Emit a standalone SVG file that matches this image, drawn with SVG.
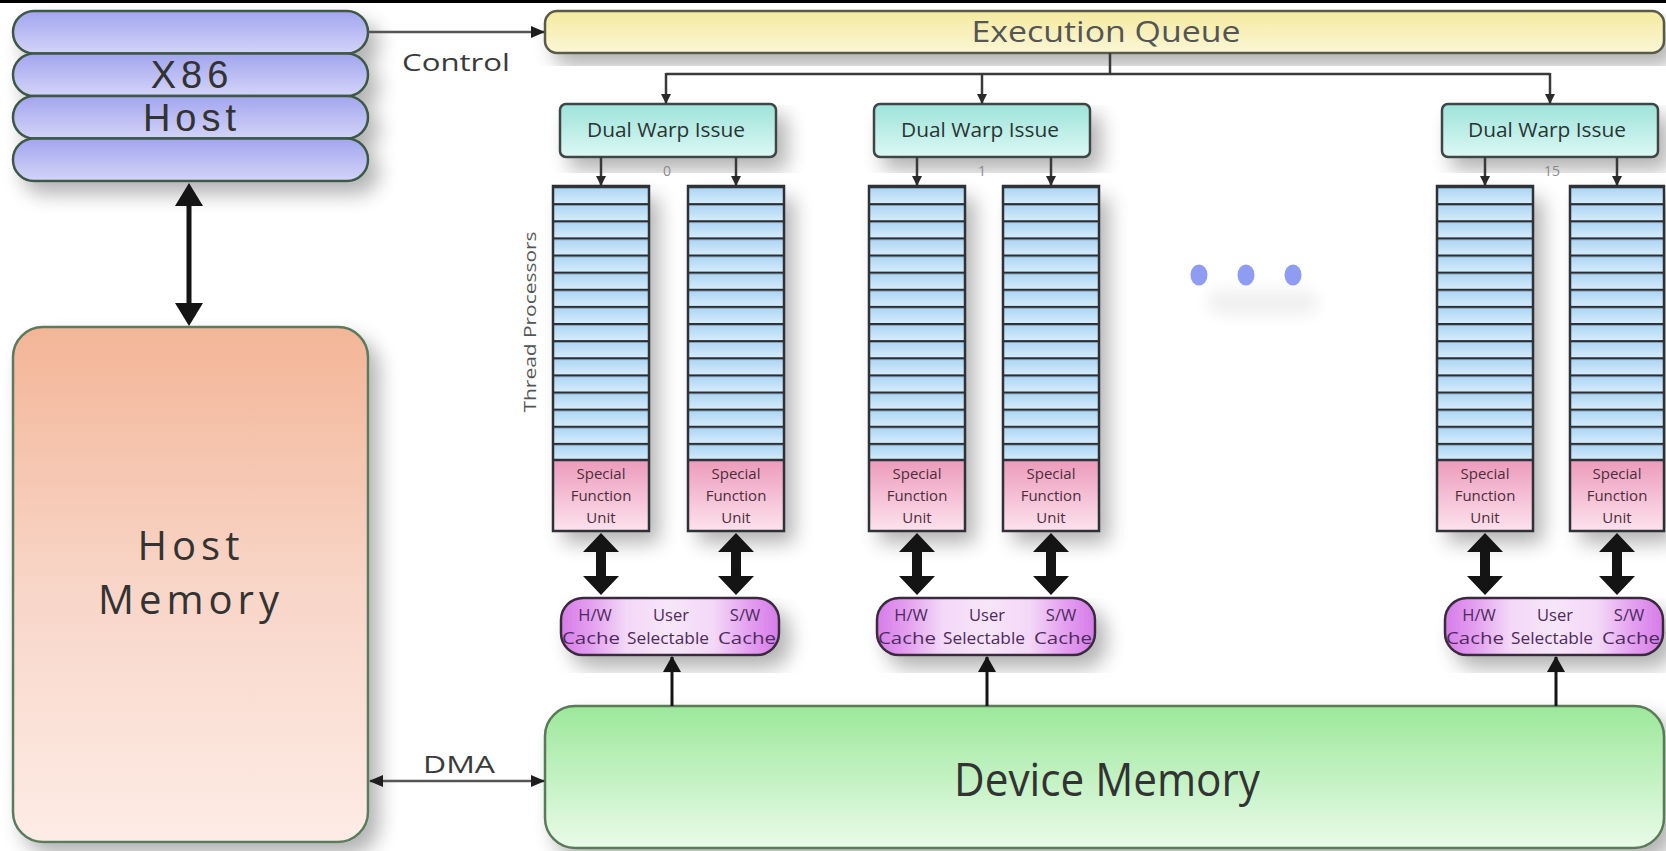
<svg xmlns="http://www.w3.org/2000/svg" width="1666" height="851" viewBox="0 0 1666 851">
  <style>
    text { font-family: "Open Sans", "Noto Sans", "DejaVu Sans", sans-serif; }
    .big { font-size: 40px; fill: #333; letter-spacing: 5px; text-anchor: middle; }
    .stack { font-family: "Liberation Sans", "Open Sans", sans-serif; font-size: 38px; fill: #333; letter-spacing: 5px; text-anchor: middle; }
    .lbl { font-size: 24px; fill: #3a3a3a; text-anchor: middle; }
    .dwi { font-size: 20px; fill: #2a3433; text-anchor: middle; }
    .num { font-size: 14px; fill: #8a8a8a; text-anchor: middle; }
    .sfu { font-size: 15px; fill: #4e2c3b; text-anchor: middle; }
    .cache { font-size: 16.5px; fill: #4e2a5e; text-anchor: middle; }
    .tp { font-size: 16px; fill: #555; text-anchor: middle; }
    .col-edge { stroke: #2e3236; stroke-width: 2.5; fill: none; }
    .wire { stroke: #3a3a3a; stroke-width: 2.5; fill: none; }
    .wire-lt { stroke: #555; stroke-width: 2.5; fill: none; }
    .heavy { fill: #141414; }
  </style>
  <defs>
    <filter id="shadow" x="-20%" y="-20%" width="150%" height="150%">
      <feGaussianBlur in="SourceAlpha" stdDeviation="10"/>
      <feOffset dx="10" dy="12"/>
      <feComponentTransfer><feFuncA type="linear" slope="0.3"/></feComponentTransfer>
      <feMerge><feMergeNode/><feMergeNode in="SourceGraphic"/></feMerge>
    </filter>
    <filter id="soft" x="-50%" y="-50%" width="200%" height="200%">
      <feGaussianBlur stdDeviation="8"/>
    </filter>

    <linearGradient id="gHost" x1="0" y1="0" x2="0" y2="1">
      <stop offset="0" stop-color="#a2a5ee"/>
      <stop offset="1" stop-color="#d3d4f8"/>
    </linearGradient>
    <linearGradient id="gHostMem" x1="0" y1="0" x2="0" y2="1">
      <stop offset="0" stop-color="#f3b597"/>
      <stop offset="0.5" stop-color="#f8d5c7"/>
      <stop offset="1" stop-color="#fdece6"/>
    </linearGradient>
    <linearGradient id="gQueue" x1="0" y1="0" x2="0" y2="1">
      <stop offset="0" stop-color="#f4ea9f"/>
      <stop offset="1" stop-color="#fbf6d6"/>
    </linearGradient>
    <linearGradient id="gDwi" x1="0" y1="0" x2="0" y2="1">
      <stop offset="0" stop-color="#9de3da"/>
      <stop offset="1" stop-color="#dcf8f4"/>
    </linearGradient>
    <linearGradient id="gDev" x1="0" y1="0" x2="0" y2="1">
      <stop offset="0" stop-color="#9ce89a"/>
      <stop offset="1" stop-color="#e9fbe9"/>
    </linearGradient>
    <linearGradient id="gSfu" x1="0" y1="0" x2="0" y2="1">
      <stop offset="0" stop-color="#ec9bbb"/>
      <stop offset="1" stop-color="#fde3ed"/>
    </linearGradient>
    <linearGradient id="gCell" x1="0" y1="0" x2="0" y2="1">
      <stop offset="0" stop-color="#a7d2f2"/>
      <stop offset="1" stop-color="#d4ebfb"/>
    </linearGradient>
    <linearGradient id="gCache" x1="0" y1="0" x2="1" y2="0">
      <stop offset="0" stop-color="#d67ce8"/>
      <stop offset="0.14" stop-color="#e4a0f0"/>
      <stop offset="0.3" stop-color="#f3d8f7"/>
      <stop offset="0.5" stop-color="#f7e6f9"/>
      <stop offset="0.7" stop-color="#f3d8f7"/>
      <stop offset="0.86" stop-color="#e4a0f0"/>
      <stop offset="1" stop-color="#d67ce8"/>
    </linearGradient>

    <!-- 16 thread-processor lanes per column -->
    <pattern id="cells" x="0" y="186" width="2000" height="17.125" patternUnits="userSpaceOnUse">
      <rect width="2000" height="17.125" fill="url(#gCell)"/>
      <rect width="2000" height="2.2" fill="#2b2f33"/>
    </pattern>

    <marker id="ahSmall" viewBox="0 0 10 10" refX="9" refY="5" markerWidth="10" markerHeight="10" markerUnits="userSpaceOnUse" orient="auto">
      <path d="M0,0 L10,5 L0,10 Z" fill="#2a2a2a"/>
    </marker>
    <marker id="ahMid" viewBox="0 0 14 12" refX="13" refY="6" markerWidth="14" markerHeight="12" markerUnits="userSpaceOnUse" orient="auto-start-reverse">
      <path d="M0,0 L14,6 L0,12 Z" fill="#1e1e1e"/>
    </marker>
    <marker id="ahUp" viewBox="0 0 16 18" refX="15" refY="9" markerWidth="16" markerHeight="18" markerUnits="userSpaceOnUse" orient="auto">
      <path d="M0,0 L16,9 L0,18 Z" fill="#141414"/>
    </marker>

    <!-- heavy two-way arrow between a function unit and its cache -->
    <path id="thick" d="M0,0 L18,19 L5,19 L5,43 L18,43 L0,62 L-18,43 L-5,43 L-5,19 L-18,19 Z"/>
  </defs>

  <rect width="1666" height="851" fill="#ffffff"/>
  <rect x="0" y="0" width="1666" height="3" fill="#000"/>

  <!-- X86 host -->
  <g id="x86-host">
    <g filter="url(#shadow)">
      <rect x="13" y="11" width="355" height="42.5" rx="21" fill="url(#gHost)" stroke="#3d5846" stroke-width="2.5"/>
      <rect x="13" y="53.5" width="355" height="42.5" rx="21" fill="url(#gHost)" stroke="#3d5846" stroke-width="2.5"/>
      <rect x="13" y="96" width="355" height="42.5" rx="21" fill="url(#gHost)" stroke="#3d5846" stroke-width="2.5"/>
      <rect x="13" y="138.5" width="355" height="42.5" rx="21" fill="url(#gHost)" stroke="#3d5846" stroke-width="2.5"/>
    </g>
    <text class="stack" x="192" y="88">X86</text>
    <text class="stack" x="192" y="131">Host</text>
  </g>

  <!-- Host memory -->
  <g id="host-memory">
    <rect x="13" y="327" width="355" height="515" rx="30" fill="url(#gHostMem)" stroke="#5b7a5b" stroke-width="2.5" filter="url(#shadow)"/>
    <text class="big" x="191" y="560">Host</text>
    <text class="big" x="191" y="614">Memory</text>
  </g>

  <!-- Execution queue -->
  <g id="execution-queue">
    <rect x="545" y="11" width="1119" height="42" rx="12" fill="url(#gQueue)" stroke="#5a5a4a" stroke-width="2.5" filter="url(#shadow)"/>
    <text x="1106" y="42" font-size="30" fill="#555" text-anchor="middle" textLength="269" lengthAdjust="spacingAndGlyphs">Execution Queue</text>
  </g>

  <!-- Dual warp issue units -->
  <g id="dwi-0">
    <rect x="560" y="104" width="216" height="53" rx="6" fill="url(#gDwi)" stroke="#3f4545" stroke-width="2.5" filter="url(#shadow)"/>
    <text class="dwi" x="666" y="137" textLength="158" lengthAdjust="spacingAndGlyphs">Dual Warp Issue</text>
  </g>
  <g id="dwi-1">
    <rect x="874" y="104" width="216" height="53" rx="6" fill="url(#gDwi)" stroke="#3f4545" stroke-width="2.5" filter="url(#shadow)"/>
    <text class="dwi" x="980" y="137" textLength="158" lengthAdjust="spacingAndGlyphs">Dual Warp Issue</text>
  </g>
  <g id="dwi-15">
    <rect x="1442" y="104" width="216" height="53" rx="6" fill="url(#gDwi)" stroke="#3f4545" stroke-width="2.5" filter="url(#shadow)"/>
    <text class="dwi" x="1547" y="137" textLength="158" lengthAdjust="spacingAndGlyphs">Dual Warp Issue</text>
  </g>

  <text class="num" x="667" y="176">0</text>
  <text class="num" x="982" y="176">1</text>
  <text class="num" x="1552" y="176">15</text>

  <text class="tp" transform="translate(536,322) rotate(-90)" textLength="181" lengthAdjust="spacingAndGlyphs">Thread Processors</text>

  <!-- Thread processor columns with special function units -->
  <g id="tp-0a">
    <g filter="url(#shadow)">
      <rect x="553" y="186" width="96" height="274" fill="url(#cells)"/>
      <rect x="553" y="460" width="96" height="71" fill="url(#gSfu)"/>
    </g>
    <rect class="col-edge" x="553" y="186" width="96" height="345"/>
    <line x1="553" y1="460" x2="649" y2="460" stroke="#2e3236" stroke-width="2.5"/>
    <text class="sfu" x="601" y="479">Special</text>
    <text class="sfu" x="601" y="501">Function</text>
    <text class="sfu" x="601" y="523">Unit</text>
  </g>
  <g id="tp-0b">
    <g filter="url(#shadow)">
      <rect x="688" y="186" width="96" height="274" fill="url(#cells)"/>
      <rect x="688" y="460" width="96" height="71" fill="url(#gSfu)"/>
    </g>
    <rect class="col-edge" x="688" y="186" width="96" height="345"/>
    <line x1="688" y1="460" x2="784" y2="460" stroke="#2e3236" stroke-width="2.5"/>
    <text class="sfu" x="736" y="479">Special</text>
    <text class="sfu" x="736" y="501">Function</text>
    <text class="sfu" x="736" y="523">Unit</text>
  </g>
  <g id="tp-1a">
    <g filter="url(#shadow)">
      <rect x="869" y="186" width="96" height="274" fill="url(#cells)"/>
      <rect x="869" y="460" width="96" height="71" fill="url(#gSfu)"/>
    </g>
    <rect class="col-edge" x="869" y="186" width="96" height="345"/>
    <line x1="869" y1="460" x2="965" y2="460" stroke="#2e3236" stroke-width="2.5"/>
    <text class="sfu" x="917" y="479">Special</text>
    <text class="sfu" x="917" y="501">Function</text>
    <text class="sfu" x="917" y="523">Unit</text>
  </g>
  <g id="tp-1b">
    <g filter="url(#shadow)">
      <rect x="1003" y="186" width="96" height="274" fill="url(#cells)"/>
      <rect x="1003" y="460" width="96" height="71" fill="url(#gSfu)"/>
    </g>
    <rect class="col-edge" x="1003" y="186" width="96" height="345"/>
    <line x1="1003" y1="460" x2="1099" y2="460" stroke="#2e3236" stroke-width="2.5"/>
    <text class="sfu" x="1051" y="479">Special</text>
    <text class="sfu" x="1051" y="501">Function</text>
    <text class="sfu" x="1051" y="523">Unit</text>
  </g>
  <g id="tp-15a">
    <g filter="url(#shadow)">
      <rect x="1437" y="186" width="96" height="274" fill="url(#cells)"/>
      <rect x="1437" y="460" width="96" height="71" fill="url(#gSfu)"/>
    </g>
    <rect class="col-edge" x="1437" y="186" width="96" height="345"/>
    <line x1="1437" y1="460" x2="1533" y2="460" stroke="#2e3236" stroke-width="2.5"/>
    <text class="sfu" x="1485" y="479">Special</text>
    <text class="sfu" x="1485" y="501">Function</text>
    <text class="sfu" x="1485" y="523">Unit</text>
  </g>
  <g id="tp-15b">
    <g filter="url(#shadow)">
      <rect x="1570" y="186" width="94" height="274" fill="url(#cells)"/>
      <rect x="1570" y="460" width="94" height="71" fill="url(#gSfu)"/>
    </g>
    <rect class="col-edge" x="1570" y="186" width="94" height="345"/>
    <line x1="1570" y1="460" x2="1664" y2="460" stroke="#2e3236" stroke-width="2.5"/>
    <text class="sfu" x="1617" y="479">Special</text>
    <text class="sfu" x="1617" y="501">Function</text>
    <text class="sfu" x="1617" y="523">Unit</text>
  </g>

  <!-- Selectable caches -->
  <g id="cache-0">
    <rect x="561" y="598" width="218" height="57" rx="22" fill="url(#gCache)" stroke="#3a2c3c" stroke-width="2.5" filter="url(#shadow)"/>
    <text class="cache" x="595" y="621">H/W</text>
    <text class="cache" x="671" y="621">User</text>
    <text class="cache" x="745" y="621">S/W</text>
    <text class="cache" x="591" y="644" textLength="58" lengthAdjust="spacingAndGlyphs">Cache</text>
    <text class="cache" x="668" y="644" textLength="82" lengthAdjust="spacingAndGlyphs">Selectable</text>
    <text class="cache" x="747" y="644" textLength="58" lengthAdjust="spacingAndGlyphs">Cache</text>
  </g>
  <g id="cache-1">
    <rect x="877" y="598" width="218" height="57" rx="22" fill="url(#gCache)" stroke="#3a2c3c" stroke-width="2.5" filter="url(#shadow)"/>
    <text class="cache" x="911" y="621">H/W</text>
    <text class="cache" x="987" y="621">User</text>
    <text class="cache" x="1061" y="621">S/W</text>
    <text class="cache" x="907" y="644" textLength="58" lengthAdjust="spacingAndGlyphs">Cache</text>
    <text class="cache" x="984" y="644" textLength="82" lengthAdjust="spacingAndGlyphs">Selectable</text>
    <text class="cache" x="1063" y="644" textLength="58" lengthAdjust="spacingAndGlyphs">Cache</text>
  </g>
  <g id="cache-15">
    <rect x="1445" y="598" width="218" height="57" rx="22" fill="url(#gCache)" stroke="#3a2c3c" stroke-width="2.5" filter="url(#shadow)"/>
    <text class="cache" x="1479" y="621">H/W</text>
    <text class="cache" x="1555" y="621">User</text>
    <text class="cache" x="1629" y="621">S/W</text>
    <text class="cache" x="1475" y="644" textLength="58" lengthAdjust="spacingAndGlyphs">Cache</text>
    <text class="cache" x="1552" y="644" textLength="82" lengthAdjust="spacingAndGlyphs">Selectable</text>
    <text class="cache" x="1631" y="644" textLength="58" lengthAdjust="spacingAndGlyphs">Cache</text>
  </g>

  <!-- Device memory -->
  <g id="device-memory">
    <rect x="545" y="706" width="1119" height="142" rx="30" fill="url(#gDev)" stroke="#5a7a5a" stroke-width="2.5" filter="url(#shadow)"/>
    <text x="1107" y="796" font-size="46" fill="#333" text-anchor="middle" textLength="306" lengthAdjust="spacingAndGlyphs">Device Memory</text>
  </g>

  <!-- ellipsis between multiprocessors -->
  <g id="ellipsis">
    <rect x="1208" y="290" width="110" height="25" rx="10" fill="#000" opacity="0.06" filter="url(#soft)"/>
    <ellipse cx="1199" cy="275" rx="8.5" ry="10.5" fill="#8e9df2"/>
    <ellipse cx="1246" cy="275" rx="8.5" ry="10.5" fill="#8e9df2"/>
    <ellipse cx="1293" cy="275" rx="8.5" ry="10.5" fill="#8e9df2"/>
  </g>

  <!-- Connectors -->
  <g id="connectors">
    <line class="wire-lt" x1="368" y1="32" x2="544" y2="32" marker-end="url(#ahMid)"/>
    <text class="lbl" x="456" y="71" textLength="108" lengthAdjust="spacingAndGlyphs">Control</text>

    <path class="wire" d="M1110,53 V74 M666,74 H1550"/>
    <line class="wire" x1="666" y1="73" x2="666" y2="103" marker-end="url(#ahSmall)"/>
    <line class="wire" x1="982" y1="73" x2="982" y2="103" marker-end="url(#ahSmall)"/>
    <line class="wire" x1="1550" y1="73" x2="1550" y2="103" marker-end="url(#ahSmall)"/>

    <line class="wire" x1="601" y1="157" x2="601" y2="185" marker-end="url(#ahSmall)"/>
    <line class="wire" x1="736" y1="157" x2="736" y2="185" marker-end="url(#ahSmall)"/>
    <line class="wire" x1="917" y1="157" x2="917" y2="185" marker-end="url(#ahSmall)"/>
    <line class="wire" x1="1051" y1="157" x2="1051" y2="185" marker-end="url(#ahSmall)"/>
    <line class="wire" x1="1485" y1="157" x2="1485" y2="185" marker-end="url(#ahSmall)"/>
    <line class="wire" x1="1617" y1="157" x2="1617" y2="185" marker-end="url(#ahSmall)"/>

    <use href="#thick" class="heavy" x="601" y="533"/>
    <use href="#thick" class="heavy" x="736" y="533"/>
    <use href="#thick" class="heavy" x="917" y="533"/>
    <use href="#thick" class="heavy" x="1051" y="533"/>
    <use href="#thick" class="heavy" x="1485" y="533"/>
    <use href="#thick" class="heavy" x="1617" y="533"/>

    <line stroke="#141414" stroke-width="3" x1="672" y1="706" x2="672" y2="657" marker-end="url(#ahUp)"/>
    <line stroke="#141414" stroke-width="3" x1="987" y1="706" x2="987" y2="657" marker-end="url(#ahUp)"/>
    <line stroke="#141414" stroke-width="3" x1="1556" y1="706" x2="1556" y2="657" marker-end="url(#ahUp)"/>

    <path class="heavy" d="M189,183 L203,206 L191.5,206 L191.5,303 L203,303 L189,326 L175,303 L186.5,303 L186.5,206 L175,206 Z"/>

    <line class="wire-lt" x1="370" y1="781" x2="544" y2="781" marker-start="url(#ahMid)" marker-end="url(#ahMid)"/>
    <text class="lbl" x="459" y="773" textLength="72" lengthAdjust="spacingAndGlyphs">DMA</text>
  </g>
</svg>
